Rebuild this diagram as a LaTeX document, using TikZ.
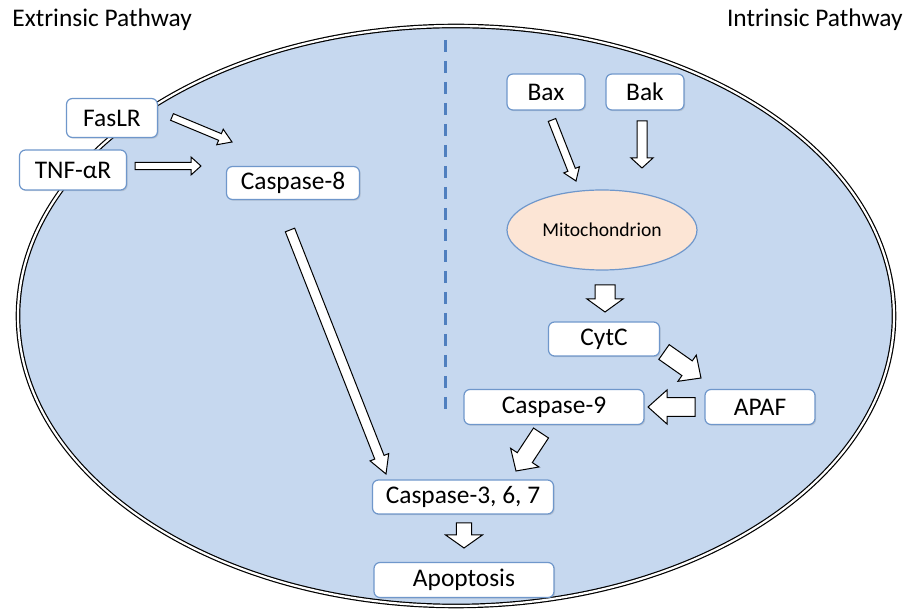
\documentclass[tikz,border=0pt]{standalone}
\usepackage{fontspec}
\setmainfont{Carlito}
\usepackage{tikz}
\usetikzlibrary{calc, shapes.geometric, shadows}
\definecolor{cellblue}{HTML}{C6D8EF}
\definecolor{boxline}{HTML}{6F97CB}
\definecolor{mitofill}{HTML}{FCE5D5}
\definecolor{dashblue}{HTML}{4F7FBF}
\newcommand{\blockarrow}[5]{%
	\coordinate (ba-neck) at ($(#2)!#5!(#1)$);
	\draw[blockarrowline]
		($(#1)!#3!90:(#2)$) -- ($(ba-neck)!#3!90:(#2)$) -- ($(ba-neck)!#4!90:(#2)$)
		-- (#2)
		-- ($(ba-neck)!#4!-90:(#2)$) -- ($(ba-neck)!#3!-90:(#2)$) -- ($(#1)!#3!-90:(#2)$) -- cycle;
}
\tikzset{
	stepnode/.style={
			rectangle,
			draw=boxline,
			line width=0.6pt,
			fill=white,
			rounded corners=3pt,
			inner sep=0pt,
			font=\fontsize{12.7}{14}\selectfont,
			drop shadow={shadow xshift=0.6pt, shadow yshift=-0.6pt, opacity=0.25}
		},
	mitonode/.style={
			ellipse,
			draw=boxline,
			line width=0.6pt,
			fill=mitofill,
			minimum width=95pt,
			minimum height=40pt,
			inner sep=0pt,
			font=\fontsize{9.8}{11}\selectfont
		},
	titlenode/.style={
			inner sep=0pt,
			font=\fontsize{12.7}{14}\selectfont
		},
	blockarrowline/.style={
			draw=black,
			line width=0.5pt,
			fill=white,
			line join=miter
		}
}

\begin{document}
\begin{tikzpicture}[x=0.5pt, y=-0.5pt]
\useasboundingbox (0,0) rectangle (912,614);

% cell
\node (cell) at (456,316) [ellipse, draw=black, line width=0.6pt, double=white, double distance=1.1pt, fill=cellblue, minimum width=438pt, minimum height=290pt] {};
\draw[dashblue, line width=1.5pt, dash pattern=on 6pt off 4.5pt] (445,40) -- (445,415);

\node (ext) at (12,20) [titlenode, anchor=west] {Extrinsic Pathway};
\node (int) at (903,20) [titlenode, anchor=east] {Intrinsic Pathway};

% extrinsic side
\node (fas) at (112,118) [stepnode, minimum width=45.5pt, minimum height=19.5pt] {FasLR};
\node (tnf) at (73,170) [stepnode, minimum width=53.5pt, minimum height=20pt] {TNF-αR};
\node (casp8) at (293,183) [stepnode, minimum width=66.5pt, minimum height=16.5pt] {Caspase-8};

% intrinsic side
\node (bax) at (546,92) [stepnode, minimum width=39pt, minimum height=18pt] {Bax};
\node (bak) at (645,92) [stepnode, minimum width=39pt, minimum height=18pt] {Bak};
\node (mito) at (602,230) [mitonode] {Mitochondrion};
\node (cytc) at (604,339) [stepnode, minimum width=55.5pt, minimum height=17pt] {CytC};
\node (apaf) at (760,407) [stepnode, minimum width=55pt, minimum height=17.5pt] {APAF};
\node (casp9) at (554,407) [stepnode, minimum width=90pt, minimum height=17.5pt] {Caspase-9};

% common
\node (casp3) at (463,497) [stepnode, minimum width=90.5pt, minimum height=17pt] {Caspase-3, 6, 7};
\node (apop) at (464,580) [stepnode, minimum width=90pt, minimum height=17.5pt] {Apoptosis};

% arrow ends
\coordinate (fas-a) at (172,117);   \coordinate (fas-b) at (232,142);
\coordinate (tnf-a) at (135,166);   \coordinate (tnf-b) at (201,166);
\coordinate (casp8-a) at (290,230); \coordinate (casp8-b) at (386,474);
\coordinate (bax-a) at (552,120);   \coordinate (bax-b) at (576,181);
\coordinate (bak-a) at (642,121);   \coordinate (bak-b) at (642,168);
\coordinate (mito-a) at (605,285);  \coordinate (mito-b) at (605,312);
\coordinate (cytc-a) at (664,352);  \coordinate (cytc-b) at (701,378);
\coordinate (apaf-a) at (695,407);  \coordinate (apaf-b) at (648,407);
\coordinate (casp9-a) at (541,433); \coordinate (casp9-b) at (516,471);
\coordinate (casp3-a) at (464,523); \coordinate (casp3-b) at (464,548);

\blockarrow{fas-a}{fas-b}{1.8pt}{4.2pt}{6.5pt}
\blockarrow{tnf-a}{tnf-b}{1.8pt}{4.5pt}{5pt}
\blockarrow{casp8-a}{casp8-b}{2.5pt}{5pt}{9pt}
\blockarrow{bax-a}{bax-b}{2pt}{4.2pt}{6pt}
\blockarrow{bak-a}{bak-b}{2.5pt}{5.5pt}{5pt}
\blockarrow{mito-a}{mito-b}{5pt}{9pt}{6.5pt}
\blockarrow{cytc-a}{cytc-b}{4.5pt}{8pt}{8.5pt}
\blockarrow{apaf-a}{apaf-b}{4.7pt}{8.5pt}{9.5pt}
\blockarrow{casp9-a}{casp9-b}{4.5pt}{8.5pt}{8pt}
\blockarrow{casp3-a}{casp3-b}{3.8pt}{9.2pt}{6.5pt}

\end{tikzpicture}
\end{document}
